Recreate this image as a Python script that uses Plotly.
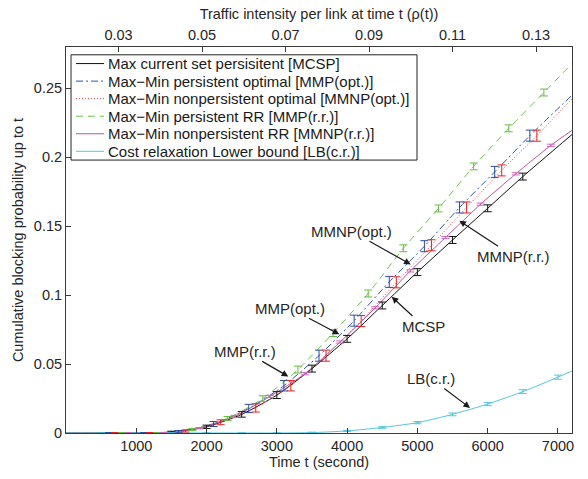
import plotly.graph_objects as go

# ---------------- data ----------------
# MCSP  (black, solid)
t_mcsp = [0, 500, 1000, 1500, 2000, 2500, 3000, 3500, 4000, 4500, 5000, 5500, 6000, 6500, 7200]
p_mcsp = [0, 0, 0, 0.0007, 0.0045, 0.0135, 0.0275, 0.0467, 0.0683, 0.0925, 0.1167, 0.140, 0.163, 0.186, 0.2165]
e_mcsp = [0.0003, 0.0003, 0.0006, 0.0012, 0.002, 0.0025, 0.0025, 0.0025, 0.0025, 0.0025, 0.0025, 0.0025, 0.0025]

# MMP(opt.) (blue, dash-dot)
t_mmp_opt = [0, 600, 1100, 1600, 2100, 2600, 3100, 3600, 4100, 4600, 5100, 5600, 6100, 6600, 7200]
p_mmp_opt = [0, 0, 0, 0.001, 0.0065, 0.0178, 0.0343, 0.0561, 0.0815, 0.1096, 0.1355, 0.1636, 0.1894, 0.2157, 0.245]
e_mmp_opt = [0.0003, 0.0003, 0.0008, 0.0018, 0.003, 0.0038, 0.004, 0.004, 0.004, 0.004, 0.004, 0.004, 0.004]

# MMNP(opt.) (red, dotted)
t_mmnp_opt = [0, 700, 1200, 1700, 2200, 2700, 3200, 3700, 4200, 4700, 5200, 5700, 6200, 6700, 7200]
p_mmnp_opt = [0, 0, 0, 0.0015, 0.0078, 0.0182, 0.0343, 0.0561, 0.0812, 0.1093, 0.1362, 0.1636, 0.1905, 0.2157, 0.2425]
e_mmnp_opt = [0.0003, 0.0003, 0.0008, 0.0018, 0.003, 0.0038, 0.004, 0.004, 0.004, 0.004, 0.004, 0.004, 0.004]

# MMP(r.r.) (green, dashed)
t_mmp_rr = [0, 800, 1300, 1800, 2300, 2800, 3300, 3800, 4300, 4800, 5300, 5800, 6300, 6800, 7200]
p_mmp_rr = [0, 0, 0, 0.0025, 0.0105, 0.025, 0.046, 0.0725, 0.1012, 0.134, 0.1629, 0.1934, 0.221, 0.247, 0.268]
e_mmp_rr = [0.0003, 0.0003, 0.0008, 0.0015, 0.002, 0.0025, 0.0025, 0.0025, 0.0025, 0.0025, 0.0025, 0.0025, 0.0025]

# MMNP(r.r.) (magenta, solid)
t_mmnp_rr = [0, 900, 1400, 1900, 2400, 2900, 3400, 3900, 4400, 4900, 5400, 5900, 6400, 6900, 7200]
p_mmnp_rr = [0, 0, 0, 0.0035, 0.012, 0.0265, 0.043, 0.066, 0.0908, 0.1176, 0.1418, 0.166, 0.188, 0.2087, 0.2195]
e_mmnp_rr = [0.0003, 0.0003, 0.0005, 0.0008, 0.0008, 0.0008, 0.0008, 0.0008, 0.0008, 0.0008, 0.0008, 0.0008, 0.0008]

# LB(c.r.) (cyan, solid)
t_lb = [0, 500, 1000, 1500, 2000, 2500, 3000, 3500, 4000, 4500, 5000, 5500, 6000, 6500, 7000, 7200]
p_lb = [0, 0, 0, 0, 0, 0, 0, 0.0003, 0.0015, 0.004, 0.0075, 0.0135, 0.021, 0.030, 0.0405, 0.045]
e_lb = [0.0002, 0.0002, 0.0002, 0.0002, 0.0002, 0.0002, 0.0003, 0.0004, 0.0006, 0.0008, 0.001, 0.0012, 0.0014, 0.0015]

series_names = [
    "Max current set persisitent [MCSP]",
    "Max\u2212Min persistent optimal [MMP(opt.)]",
    "Max\u2212Min nonpersistent optimal [MMNP(opt.)]",
    "Max\u2212Min persistent RR [MMP(r.r.)]",
    "Max\u2212Min nonpersistent RR [MMNP(r.r.)]",
    "Cost relaxation Lower bound [LB(c.r.)]",
]

# top axis: traffic intensity, linear in time
rho_at_t0 = 0.01743
rho_per_second = 0.00001683
rho_ticks = [0.03, 0.05, 0.07, 0.09, 0.11, 0.13]

x_ticks = [1000, 2000, 3000, 4000, 5000, 6000, 7000]
y_ticks = [0, 0.05, 0.1, 0.15, 0.2, 0.25]

# annotation labels: (text, tip t, tip p, text t, text p)
labels = [
    ("MMNP(opt.)", 4905, 0.1223, 4065, 0.1464),
    ("MMP(opt.)", 3889, 0.0716, 3187, 0.0905),
    ("MMP(r.r.)", 3163, 0.0410, 2547, 0.0592),
    ("MCSP", 4635, 0.0988, 5084, 0.0776),
    ("MMNP(r.r.)", 5597, 0.1540, 6365, 0.1282),
    ("LB(c.r.)", 5749, 0.0182, 5194, 0.0396),
]

# ---------------- styles ----------------
styles = [
    dict(color="#111111", dash="solid"),
    dict(color="#2f52b8", dash="7px,3px,2px,3px"),
    dict(color="#f03a3a", dash="1px,2px"),
    dict(color="#6cc24a", dash="7px,5px"),
    dict(color="#c2509f", dash="solid"),
    dict(color="#55c6dc", dash="solid"),
]
err_colors = ["#111111", "#2a4aa8", "#e81e1e", "#66bb44", "#cc66b8", "#55c6dc"]

data = [
    (t_mcsp, p_mcsp, e_mcsp),
    (t_mmp_opt, p_mmp_opt, e_mmp_opt),
    (t_mmnp_opt, p_mmnp_opt, e_mmnp_opt),
    (t_mmp_rr, p_mmp_rr, e_mmp_rr),
    (t_mmnp_rr, p_mmnp_rr, e_mmnp_rr),
    (t_lb, p_lb, e_lb),
]

FONT = "Liberation Sans, Arial, Helvetica, sans-serif"
AX = "#3a3a3a"

# plot-area geometry (pixels)
W, H = 588, 479
ML, MR, MT, MB = 66, 16, 47, 36
PW, PH = W - ML - MR, H - MT - MB


def px2paper(px, py):
    return (px - ML) / PW, (H - MB - py) / PH


fig = go.Figure()
for (t, p, e), name, st in zip(data, series_names, styles):
    fig.add_trace(go.Scatter(
        x=t, y=p, name=name, mode="lines", showlegend=False,
        line=dict(color=st["color"], dash=st["dash"], width=1, shape="spline", smoothing=0.6),
        hoverinfo="skip",
    ))
for (t, p, e), ec in zip(data, err_colors):
    fig.add_trace(go.Scatter(
        x=t[1:-1], y=p[1:-1], mode="markers", showlegend=False,
        marker=dict(size=2, opacity=0, color=ec),
        error_y=dict(type="data", array=e, visible=True, color=ec, thickness=1, width=4),
        hoverinfo="skip",
    ))

# invisible trace to activate the top axis
fig.add_trace(go.Scatter(x=[rho_ticks[0]], y=[0], xaxis="x2", mode="markers",
                         marker=dict(opacity=0), showlegend=False, hoverinfo="skip"))

for text, tx, ty, ax_, ay_ in labels:
    fig.add_annotation(
        x=tx, y=ty, ax=ax_, ay=ay_, xref="x", yref="y", axref="x", ayref="y",
        text=text, showarrow=True, arrowhead=2, arrowsize=1.1, arrowwidth=1.2,
        arrowcolor="#1a1a1a", standoff=0, font=dict(size=15, color="#262626", family=FONT),
    )

# ---------------- legend box (MATLAB-style, compact rows) ----------------
leg_left, leg_right, leg_top, row_h = 71, 417, 55, 18
n = len(series_names)
x0, y0 = px2paper(leg_left, leg_top)
x1, y1 = px2paper(leg_right, leg_top + n * row_h)
fig.add_shape(type="rect", xref="paper", yref="paper", x0=x0, y0=y1, x1=x1, y1=y0,
              line=dict(color="#222222", width=1), fillcolor="white", layer="above")
for i, (name, st) in enumerate(zip(series_names, styles)):
    cy = leg_top + row_h * (i + 0.5)
    lx0, ly = px2paper(leg_left + 5, cy)
    lx1, _ = px2paper(leg_left + 33, cy)
    fig.add_shape(type="line", xref="paper", yref="paper", x0=lx0, x1=lx1, y0=ly, y1=ly,
                  line=dict(color=st["color"], dash=st["dash"], width=1), layer="above")
    tx, _ = px2paper(leg_left + 35, cy)
    fig.add_annotation(x=tx, y=ly, xref="paper", yref="paper", text=name, showarrow=False,
                       xanchor="left", yanchor="middle",
                       font=dict(size=15, family=FONT, color="#1a1a1a"))

t_max = 7200
fig.update_layout(
    width=W, height=H,
    margin=dict(l=ML, r=MR, t=MT, b=MB),
    paper_bgcolor="white", plot_bgcolor="white",
    font=dict(family=FONT, size=14, color="#262626"),
    showlegend=False,
    xaxis=dict(range=[0, t_max], tickvals=x_ticks, ticks="inside", ticklen=5,
               tickcolor=AX, showline=True, linecolor=AX, linewidth=1,
               showgrid=False, zeroline=False, tickfont=dict(size=14.5),
               title=dict(text="Time t (second)", font=dict(size=14.5), standoff=2)),
    yaxis=dict(range=[0, 0.28], tickvals=y_ticks, ticktext=["0", "0.05", "0.1", "0.15", "0.2", "0.25"],
               ticks="inside", ticklen=5, tickcolor=AX,
               showline=True, linecolor=AX, linewidth=1, mirror=True,
               showgrid=False, zeroline=False, tickfont=dict(size=14.5),
               title=dict(text="Cumulative blocking probability up to t", font=dict(size=14.5), standoff=6)),
    xaxis2=dict(overlaying="x", side="top",
                range=[rho_at_t0, rho_at_t0 + rho_per_second * t_max],
                tickvals=rho_ticks, ticktext=["%.2f" % v for v in rho_ticks],
                ticks="inside", ticklen=5, tickcolor=AX,
                showline=True, linecolor=AX, linewidth=1,
                showgrid=False, zeroline=False, tickfont=dict(size=14.5),
                title=dict(text="Traffic intensity per link at time t (\u03c1(t))", font=dict(size=14.5), standoff=4)),
)

fig.write_html("out.html")
